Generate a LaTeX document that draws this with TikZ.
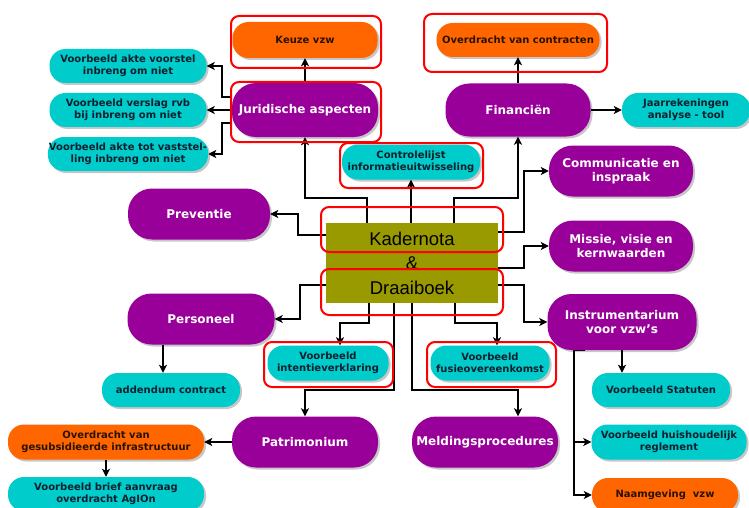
\documentclass[tikz,border=0pt]{standalone}
\usepackage{fontspec}
\setmainfont{DejaVu Sans}
\newfontfamily\arialf{Liberation Sans}
\usetikzlibrary{arrows.meta,shadows}
\definecolor{pu}{HTML}{990099}
\definecolor{cy}{HTML}{00CCCC}
\definecolor{orng}{HTML}{FF6600}
\definecolor{oliv}{HTML}{999900}
\definecolor{dtxt}{HTML}{0D1F2D}
\definecolor{otxt}{HTML}{2A1200}
\definecolor{rd}{HTML}{FF0000}
\newcommand\smallf{\bfseries\fontsize{10}{12}\selectfont}
\newcommand\bigf{\bfseries\fontsize{12}{14}\selectfont}
\pgfdeclarelayer{bg}
\pgfsetlayers{bg,main}
\tikzset{
  shad/.style={drop shadow={shadow xshift=2pt,shadow yshift=-2pt,fill=black,opacity=0.22}},
  cbox/.style={shad,fill=cy,text=dtxt,font=\smallf,rounded corners=16pt,minimum height=34pt,align=center,inner sep=1pt},
  obox/.style={shad,fill=orng,text=otxt,font=\smallf,rounded corners=16pt,minimum height=34pt,align=center,inner sep=1pt},
  pbox/.style={shad,fill=pu,text=white,font=\bigf,rounded corners=24pt,minimum height=51pt,align=center,inner sep=1pt},
  arr/.style={draw=black,line width=1.5pt,-{Stealth[length=8pt,width=8pt,inset=2pt]}},
  redframe/.style={draw=rd,line width=2pt,rounded corners=8pt},
}
\begin{document}
\begin{tikzpicture}[x=1pt,y=-1pt]
\useasboundingbox (0,0) rectangle (749,508);
\clip (0,0) rectangle (749,508);

% nodes
\node[obox,minimum width=145pt,minimum height=36pt] (keuze) at (305,40) {Keuze vzw};
\node[pbox,minimum width=146pt,minimum height=54pt] (jur) at (305,110) {Juridische aspecten};
\node[cbox,minimum width=157pt] (a1) at (128,66) {Voorbeeld akte voorstel\\inbreng om niet};
\node[cbox,minimum width=157pt] (a2) at (128,110) {Voorbeeld verslag rvb\\bij inbreng om niet};
\node[cbox,minimum width=157pt] (a3) at (128,154) {Voorbeeld akte tot vaststel-\\ling inbreng om niet};
\node[obox,minimum width=163pt] (ov) at (518,40) {Overdracht van contracten};
\node[pbox,minimum width=145pt,minimum height=53pt] (fin) at (518,110) {Financiën};
\node[cbox,minimum width=128pt] (jaar) at (686,110) {Jaarrekeningen\\analyse - tool};
\node[cbox,minimum width=138pt,minimum height=35pt] (ctrl) at (411,162) {Controlelijst\\informatieuitwisseling};
\node[pbox,minimum width=144pt] (comm) at (621,171) {Communicatie en\\inspraak};
\node[pbox,minimum width=144pt] (mis) at (621,246) {Missie, visie en\\kernwaarden};
\node[pbox,minimum width=142pt] (prev) at (199,214) {Preventie};
\node[pbox,minimum width=147pt] (pers) at (201,319) {Personeel};
\node[fill=oliv,minimum width=172pt,minimum height=80pt,inner sep=0pt,align=center,
      font=\arialf\fontsize{18.5}{24.5}\selectfont] (kd) at (412,263) {Kadernota\\\&\\Draaiboek};
\node[cbox,minimum width=121pt,minimum height=35pt] (intent) at (328,363) {Voorbeeld\\intentieverklaring};
\node[cbox,minimum width=119pt,minimum height=35pt] (fus) at (490,363) {Voorbeeld\\fusieovereenkomst};
\node[pbox,minimum width=146pt] (patr) at (305,442) {Patrimonium};
\node[pbox,minimum width=146pt] (meld) at (485,442) {Meldingsprocedures};
\node[pbox,minimum width=149pt,minimum height=56pt] (instr) at (622,322) {Instrumentarium\\voor vzw's};
\node[cbox,minimum width=138pt] (stat) at (661,390) {Voorbeeld Statuten};
\node[cbox,minimum width=155pt,minimum height=35pt] (huis) at (669,442) {Voorbeeld huishoudelijk\\reglement};
\node[obox,minimum width=146pt] (naam) at (665,495) {Naamgeving\ \ vzw};
\node[cbox,minimum width=138pt] (add) at (171,390) {addendum contract};
\node[obox,minimum width=196pt,minimum height=35pt] (ovg) at (106,442) {Overdracht van\\gesubsidieerde infrastructuur};
\node[cbox,minimum width=196pt] (brief) at (106,494) {Voorbeeld brief aanvraag\\overdracht AgIOn};

% red frames
\draw[redframe] (231,16) rectangle (381,68);
\draw[redframe] (231,82) rectangle (381,142);
\draw[redframe] (424,14) rectangle (607,72);
\draw[redframe] (340,143) rectangle (483,188);
\draw[redframe] (321,207) rectangle (503,252);
\draw[redframe] (321,269) rectangle (503,315);
\draw[redframe] (264,342) rectangle (393,387);
\draw[redframe] (427,342) rectangle (556,387);

% connectors
\begin{pgfonlayer}{bg}
\fill[white] (0,0) rectangle (749,508);
\draw[arr] ([xshift=-45pt]kd.north) -- ++(0,-25) -| (jur.south);
\draw[arr] (kd.north -| ctrl.south) -- (ctrl.south);
\draw[arr] ([xshift=42pt]kd.north) -- ++(0,-25) -| (fin.south);
\draw[arr] ([yshift=-9pt]kd.north east) -- ++(26,0) |- (comm.west);
\draw[arr] ([yshift=-45pt]kd.north east) -- ++(26,0) |- (mis.west);
\draw[arr] ([yshift=-12pt]kd.north west) -- ++(-28,0) |- (prev.east);
\draw[arr] ([yshift=18pt]kd.south west) -- ++(-26,0) |- (pers.east);
\draw[arr] ([yshift=18pt]kd.south east) -- ++(26,0) |- (instr.west);
\draw[arr] ([xshift=-43pt]kd.south) -- ++(0,20) -| ([xshift=12pt]intent.north);
\draw[arr] ([xshift=43pt]kd.south) -- ++(0,20) -| ([xshift=7pt]fus.north);
\draw[arr] ([xshift=-18pt]kd.south) -- ++(0,87) -| (patr.north);
\draw[arr] (kd.south) -- ++(0,87) -| ([xshift=33pt]meld.north);
\draw[arr] ([yshift=13pt]jur.west) -- ++(-10,0) |- (a1.east);
\draw[arr] (jur.west) -- (a2.east);
\draw[arr] ([yshift=-13pt]jur.west) -- ++(-10,0) |- (a3.east);
\draw[arr] (jur.north) -- (keuze.south);
\draw[arr] (fin.north) -- (ov.south);
\draw[arr] (fin.east) -- (jaar.west);
\coordinate (addin) at ([xshift=-8pt]add.north);
\draw[arr] (pers.south -| addin) -- (addin);
\draw[arr] (patr.west) -- (ovg.east);
\draw[arr] (ovg.south) -- (brief.north);
\draw[arr] (instr.south) -- (instr.south |- stat.north);
\draw[arr] ([xshift=-37pt]instr.south) -- ++(-11,0) |- (huis.west);
\draw[arr] ([xshift=-37pt]instr.south) -- ++(-11,0) |- (naam.west);
\end{pgfonlayer}
\end{tikzpicture}
\end{document}
